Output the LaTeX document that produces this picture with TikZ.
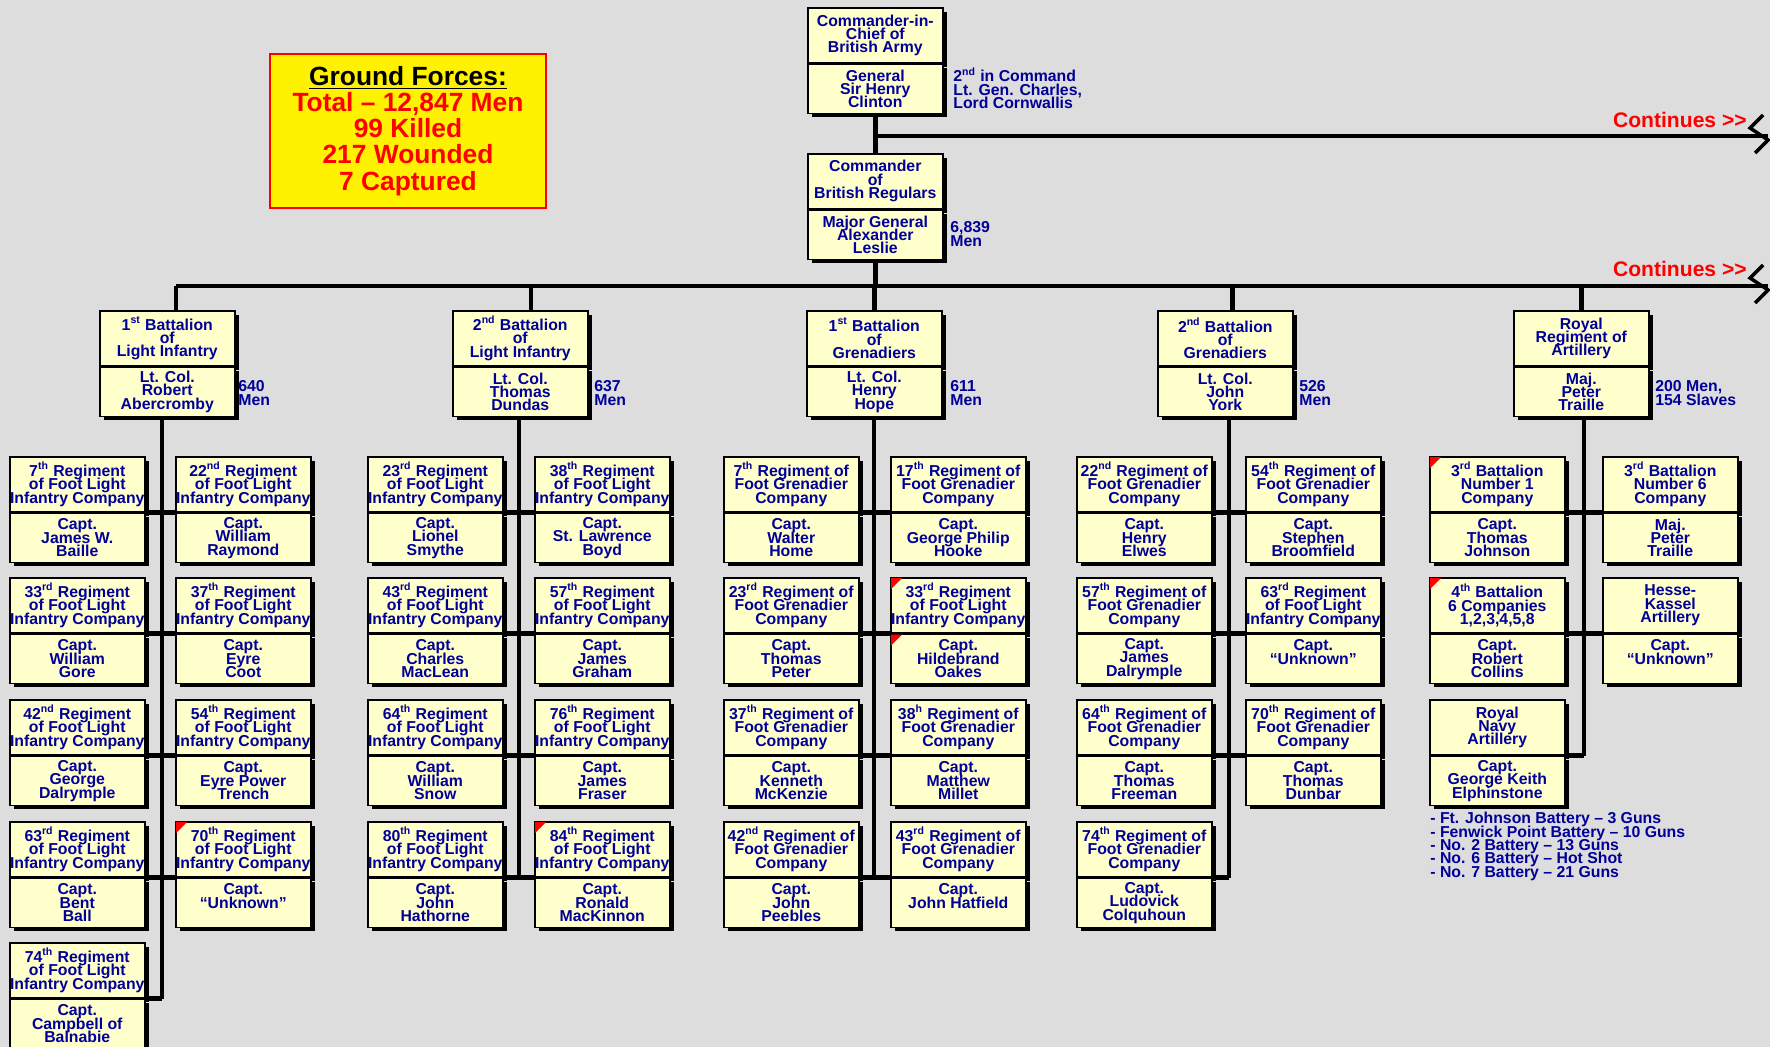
\documentclass[tikz,border=0pt]{standalone}
\usepackage{fontspec}
\setmainfont{Liberation Sans}
\usetikzlibrary{positioning,shadows}
\definecolor{paper}{HTML}{DDDDDD}
\definecolor{cellfill}{HTML}{FFFFCC}
\definecolor{ink}{HTML}{000099}
\newcommand\cellfont{\fontsize{9}{7.6}\selectfont\bfseries}
\newcommand\tallyfont{\fontsize{15}{14.9}\selectfont\bfseries}
\newcommand\morefont{\fontsize{12}{12}\selectfont\bfseries}
\tikzset{
  wire/.style={line width=0.09cm},
  cell/.style={draw, line width=0.9pt, fill=cellfill, text=ink, font=\cellfont,
    inner sep=0pt, minimum width=2.7cm, align=center,
    drop shadow={shadow xshift=0.08cm, shadow yshift=-0.08cm, fill=black, opacity=1}},
  rank/.style={cell, minimum height=1.1cm, anchor=north west},
  who/.style={cell, minimum height=0.98cm, below=0pt of #1},
  note/.style={text=ink, font=\cellfont, inner sep=0pt, align=left, anchor=west},
  more/.style={text=red, font=\morefont, inner sep=0pt, anchor=east},
  flag/.style={fill=red},
}
\begin{document}
\lineskiplimit=-9pt
\begin{tikzpicture}[x=0.02cm, y=-0.02cm]
\path[use as bounding box, fill=paper] (0,0) rectangle (1770,1047);
\node[draw=red, line width=1.2pt, fill=yellow, text=red, minimum width=5.52cm, minimum height=3.08cm,
  inner sep=0pt, align=center, font=\tallyfont] (tally) at (408,131)
  {\textcolor{black}{\underline{Ground Forces:}}\\Total – 12,847 Men\\99 Killed\\217 Wounded\\7 Captured};
\node[rank] (cic) at (807,7) {Commander-in-\\Chief of\\British Army};
\node[who=cic] (cicn) {General\\Sir Henry\\Clinton};
\node[note] (second) at (953,88) {2\textsuperscript{nd} in Command\\Lt. Gen. Charles,\\Lord Cornwallis};
\node[rank] (reg) at (807,153) {Commander\\of\\British Regulars};
\node[who=reg] (regn) {Major General\\Alexander\\Leslie};
\node[note] (regmen) at (950,234) {6,839\\Men};
\coordinate (e1) at (1768,136);
\coordinate (e2) at (1768,286);
\draw[wire] (cicn.south) -- (reg.north);
\draw[wire] (cicn.south |- e1) -- (e1);
\draw[wire, line width=0.07cm] ([shift={(-5,-21)}]e1) -- ++(-13,13) -- ++(18,12) -- ++(-13,13);
\node[more] (more1) at (1747,120) {Continues >{}>};
\node[rank] (b1) at (99,310) {1\textsuperscript{st} Battalion\\of\\Light Infantry};
\node[who=b1] (b1n) {Lt. Col.\\Robert\\Abercromby};
\node[note] (b1men) at (238,393) {640\\Men};
\node[rank] (b2) at (452,310) {2\textsuperscript{nd} Battalion\\of\\Light Infantry};
\node[who=b2] (b2n) {Lt. Col.\\Thomas\\Dundas};
\node[note] (b2men) at (594,393) {637\\Men};
\node[rank] (b3) at (806,310) {1\textsuperscript{st} Battalion\\of\\Grenadiers};
\node[who=b3] (b3n) {Lt. Col.\\Henry\\Hope};
\node[note] (b3men) at (950,393) {611\\Men};
\node[rank] (b4) at (1157,310) {2\textsuperscript{nd} Battalion\\of\\Grenadiers};
\node[who=b4] (b4n) {Lt. Col.\\John\\York};
\node[note] (b4men) at (1299,393) {526\\Men};
\node[rank] (b5) at (1513,310) {Royal\\Regiment of\\Artillery};
\node[who=b5] (b5n) {Maj.\\Peter\\Traille};
\node[note] (b5men) at (1655,393) {200 Men,\\154 Slaves};
\draw[wire] (regn.south) -- (regn.south |- e2);
\draw[wire] ([xshift=5]b1.north |- e2) -- (e2);
\draw[wire, line width=0.07cm] ([shift={(-5,-21)}]e2) -- ++(-13,13) -- ++(18,12) -- ++(-13,13);
\node[more] (more2) at (1747,269) {Continues >{}>};
\draw[wire] ([xshift=5]b1.north) -- ([xshift=5]b1.north |- e2);
\draw[wire] ([xshift=6]b2.north) -- ([xshift=6]b2.north |- e2);
\draw[wire] (b3.north) -- (b3.north |- e2);
\draw[wire] ([xshift=4]b4.north) -- ([xshift=4]b4.north |- e2);
\draw[wire] (b5.north) -- (b5.north |- e2);
\node[rank] (c1r1) at (9,456) {7\textsuperscript{th} Regiment\\of Foot Light\\Infantry Company};
\node[who=c1r1] (c1r1n) {Capt.\\James W.\\Baille};
\node[rank] (c1r2) at (9,577) {33\textsuperscript{rd} Regiment\\of Foot Light\\Infantry Company};
\node[who=c1r2] (c1r2n) {Capt.\\William\\Gore};
\node[rank] (c1r3) at (9,699) {42\textsuperscript{nd} Regiment\\of Foot Light\\Infantry Company};
\node[who=c1r3] (c1r3n) {Capt.\\George\\Dalrymple};
\node[rank] (c1r4) at (9,821) {63\textsuperscript{rd} Regiment\\of Foot Light\\Infantry Company};
\node[who=c1r4] (c1r4n) {Capt.\\Bent\\Ball};
\node[rank] (c1r5) at (9,942) {74\textsuperscript{th} Regiment\\of Foot Light\\Infantry Company};
\node[who=c1r5] (c1r5n) {Capt.\\Campbell of\\Balnabie};
\node[rank] (c2r1) at (175,456) {22\textsuperscript{nd} Regiment\\of Foot Light\\Infantry Company};
\node[who=c2r1] (c2r1n) {Capt.\\William\\Raymond};
\node[rank] (c2r2) at (175,577) {37\textsuperscript{th} Regiment\\of Foot Light\\Infantry Company};
\node[who=c2r2] (c2r2n) {Capt.\\Eyre\\Coot};
\node[rank] (c2r3) at (175,699) {54\textsuperscript{th} Regiment\\of Foot Light\\Infantry Company};
\node[who=c2r3] (c2r3n) {Capt.\\Eyre Power\\Trench};
\node[rank] (c2r4) at (175,821) {70\textsuperscript{th} Regiment\\of Foot Light\\Infantry Company};
\node[who=c2r4] (c2r4n) {Capt.\\“Unknown”\\\phantom{C}};
\coordinate (v1) at (162,0);
\draw[wire] (b1n.south -| v1) -- (v1 |- c1r5n.north);
\draw[wire] (c1r1n.north east) -- (c2r1n.north west);
\draw[wire] (c1r2n.north east) -- (c2r2n.north west);
\draw[wire] (c1r3n.north east) -- (c2r3n.north west);
\draw[wire] (c1r4n.north east) -- (c2r4n.north west);
\draw[wire] (c1r5n.north east) -- (c1r5n.north east -| v1);
\node[rank] (c3r1) at (367,456) {23\textsuperscript{rd} Regiment\\of Foot Light\\Infantry Company};
\node[who=c3r1] (c3r1n) {Capt.\\Lionel\\Smythe};
\node[rank] (c3r2) at (367,577) {43\textsuperscript{rd} Regiment\\of Foot Light\\Infantry Company};
\node[who=c3r2] (c3r2n) {Capt.\\Charles\\MacLean};
\node[rank] (c3r3) at (367,699) {64\textsuperscript{th} Regiment\\of Foot Light\\Infantry Company};
\node[who=c3r3] (c3r3n) {Capt.\\William\\Snow};
\node[rank] (c3r4) at (367,821) {80\textsuperscript{th} Regiment\\of Foot Light\\Infantry Company};
\node[who=c3r4] (c3r4n) {Capt.\\John\\Hathorne};
\node[rank] (c4r1) at (534,456) {38\textsuperscript{th} Regiment\\of Foot Light\\Infantry Company};
\node[who=c4r1] (c4r1n) {Capt.\\St. Lawrence\\Boyd};
\node[rank] (c4r2) at (534,577) {57\textsuperscript{th} Regiment\\of Foot Light\\Infantry Company};
\node[who=c4r2] (c4r2n) {Capt.\\James\\Graham};
\node[rank] (c4r3) at (534,699) {76\textsuperscript{th} Regiment\\of Foot Light\\Infantry Company};
\node[who=c4r3] (c4r3n) {Capt.\\James\\Fraser};
\node[rank] (c4r4) at (534,821) {84\textsuperscript{th} Regiment\\of Foot Light\\Infantry Company};
\node[who=c4r4] (c4r4n) {Capt.\\Ronald\\MacKinnon};
\coordinate (v2) at (519,0);
\draw[wire] (b2n.south -| v2) -- (v2 |- c3r4n.north);
\draw[wire] (c3r1n.north east) -- (c4r1n.north west);
\draw[wire] (c3r2n.north east) -- (c4r2n.north west);
\draw[wire] (c3r3n.north east) -- (c4r3n.north west);
\draw[wire] (c3r4n.north east) -- (c4r4n.north west);
\node[rank] (c5r1) at (723,456) {7\textsuperscript{th} Regiment of\\Foot Grenadier\\Company};
\node[who=c5r1] (c5r1n) {Capt.\\Walter\\Home};
\node[rank] (c5r2) at (723,577) {23\textsuperscript{rd} Regiment of\\Foot Grenadier\\Company};
\node[who=c5r2] (c5r2n) {Capt.\\Thomas\\Peter};
\node[rank] (c5r3) at (723,699) {37\textsuperscript{th} Regiment of\\Foot Grenadier\\Company};
\node[who=c5r3] (c5r3n) {Capt.\\Kenneth\\McKenzie};
\node[rank] (c5r4) at (723,821) {42\textsuperscript{nd} Regiment of\\Foot Grenadier\\Company};
\node[who=c5r4] (c5r4n) {Capt.\\John\\Peebles};
\node[rank] (c6r1) at (890,456) {17\textsuperscript{th} Regiment of\\Foot Grenadier\\Company};
\node[who=c6r1] (c6r1n) {Capt.\\George Philip\\Hooke};
\node[rank] (c6r2) at (890,577) {33\textsuperscript{rd} Regiment\\of Foot Light\\Infantry Company};
\node[who=c6r2] (c6r2n) {Capt.\\Hildebrand\\Oakes};
\node[rank] (c6r3) at (890,699) {38\textsuperscript{h} Regiment of\\Foot Grenadier\\Company};
\node[who=c6r3] (c6r3n) {Capt.\\Matthew\\Millet};
\node[rank] (c6r4) at (890,821) {43\textsuperscript{rd} Regiment of\\Foot Grenadier\\Company};
\node[who=c6r4] (c6r4n) {Capt.\\John Hatfield\\\phantom{C}};
\coordinate (v3) at (874,0);
\draw[wire] (b3n.south -| v3) -- (v3 |- c5r4n.north);
\draw[wire] (c5r1n.north east) -- (c6r1n.north west);
\draw[wire] (c5r2n.north east) -- (c6r2n.north west);
\draw[wire] (c5r3n.north east) -- (c6r3n.north west);
\draw[wire] (c5r4n.north east) -- (c6r4n.north west);
\node[rank] (c7r1) at (1076,456) {22\textsuperscript{nd} Regiment of\\Foot Grenadier\\Company};
\node[who=c7r1] (c7r1n) {Capt.\\Henry\\Elwes};
\node[rank] (c7r2) at (1076,577) {57\textsuperscript{th} Regiment of\\Foot Grenadier\\Company};
\node[who=c7r2] (c7r2n) {Capt.\\James\\Dalrymple};
\node[rank] (c7r3) at (1076,699) {64\textsuperscript{th} Regiment of\\Foot Grenadier\\Company};
\node[who=c7r3] (c7r3n) {Capt.\\Thomas\\Freeman};
\node[rank] (c7r4) at (1076,821) {74\textsuperscript{th} Regiment of\\Foot Grenadier\\Company};
\node[who=c7r4] (c7r4n) {Capt.\\Ludovick\\Colquhoun};
\node[rank] (c8r1) at (1245,456) {54\textsuperscript{th} Regiment of\\Foot Grenadier\\Company};
\node[who=c8r1] (c8r1n) {Capt.\\Stephen\\Broomfield};
\node[rank] (c8r2) at (1245,577) {63\textsuperscript{rd} Regiment\\of Foot Light\\Infantry Company};
\node[who=c8r2] (c8r2n) {Capt.\\“Unknown”\\\phantom{C}};
\node[rank] (c8r3) at (1245,699) {70\textsuperscript{th} Regiment of\\Foot Grenadier\\Company};
\node[who=c8r3] (c8r3n) {Capt.\\Thomas\\Dunbar};
\coordinate (v4) at (1229,0);
\draw[wire] (b4n.south -| v4) -- (v4 |- c7r4n.north);
\draw[wire] (c7r1n.north east) -- (c8r1n.north west);
\draw[wire] (c7r2n.north east) -- (c8r2n.north west);
\draw[wire] (c7r3n.north east) -- (c8r3n.north west);
\draw[wire] (c7r4n.north east) -- (c7r4n.north east -| v4);
\node[rank] (c9r1) at (1429,456) {3\textsuperscript{rd} Battalion\\Number 1\\Company};
\node[who=c9r1] (c9r1n) {Capt.\\Thomas\\Johnson};
\node[rank] (c9r2) at (1429,577) {4\textsuperscript{th} Battalion\\6 Companies\\1,2,3,4,5,8};
\node[who=c9r2] (c9r2n) {Capt.\\Robert\\Collins};
\node[rank] (c9r3) at (1429,699) {Royal\\Navy\\Artillery};
\node[who=c9r3] (c9r3n) {Capt.\\George Keith\\Elphinstone};
\node[rank] (c10r1) at (1602,456) {3\textsuperscript{rd} Battalion\\Number 6\\Company};
\node[who=c10r1] (c10r1n) {Maj.\\Peter\\Traille};
\node[rank] (c10r2) at (1602,577) {Hesse-\\Kassel\\Artillery};
\node[who=c10r2] (c10r2n) {Capt.\\“Unknown”\\\phantom{C}};
\coordinate (v5) at (1584,0);
\draw[wire] (b5n.south -| v5) -- (v5 |- c9r3n.north);
\draw[wire] (c9r1n.north east) -- (c10r1n.north west);
\draw[wire] (c9r2n.north east) -- (c10r2n.north west);
\draw[wire] (c9r3n.north east) -- (c9r3n.north east -| v5);
\node[note, anchor=north west] (guns) at (1430,812) {- Ft. Johnson Battery – 3 Guns\\- Fenwick Point Battery – 10 Guns\\- No. 2 Battery – 13 Guns\\- No. 6 Battery – Hot Shot\\- No. 7 Battery – 21 Guns};
\fill[flag] ([shift={(1,1)}]c2r4.north west) -- ++(11,0) -- ++(-11,11) -- cycle;
\fill[flag] ([shift={(1,1)}]c4r4.north west) -- ++(11,0) -- ++(-11,11) -- cycle;
\fill[flag] ([shift={(1,1)}]c6r2.north west) -- ++(11,0) -- ++(-11,11) -- cycle;
\fill[flag] ([shift={(1,1)}]c6r2n.north west) -- ++(11,0) -- ++(-11,11) -- cycle;
\fill[flag] ([shift={(1,1)}]c9r1.north west) -- ++(11,0) -- ++(-11,11) -- cycle;
\fill[flag] ([shift={(1,1)}]c9r2.north west) -- ++(11,0) -- ++(-11,11) -- cycle;
\end{tikzpicture}
\end{document}
